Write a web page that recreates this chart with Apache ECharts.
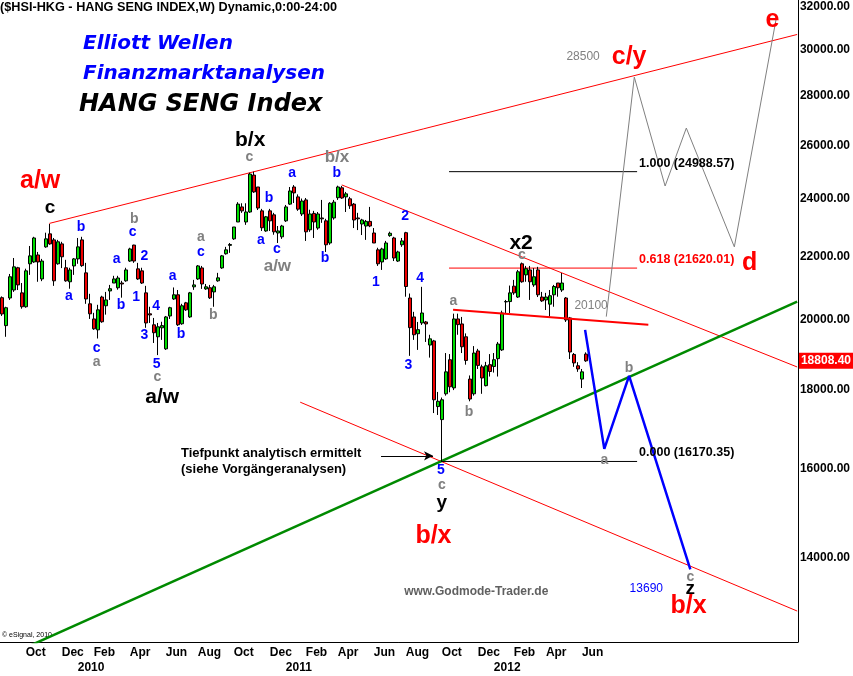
<!DOCTYPE html>
<html><head><meta charset="utf-8">
<script src="https://cdn.jsdelivr.net/npm/echarts@6/dist/echarts.min.js"></script>
<style>html,body{margin:0;padding:0;background:#fff}#c{width:853px;height:676px}</style>
</head><body><div id="c"></div>
<script>
// ---------- DATA ----------
const firstWeek = '2009-08-24'; // Monday of first weekly bar
const open = [20680,19830,20670,20920,21630,20830,20400,21760,21820,22050,21270,22320,22760,22555,21760,22420,21630,21180,21690,21920,22555,21465,20490,20030,19705,
20700,20430,20890,21140,20990,21140,21210,21850,22380,21595,21530,20830,20185,19855,19500,19765,19150,20120,20640,20770,19885,20520,20090,21020,21270,
21625,20955,20990,20860,21210,21625,22090,22370,22590,23170,23700,23170,23520,24860,24420,23560,22860,23560,23420,22790,22660,23210,23800,24420,24060,
23450,23950,22900,23470,22960,23310,23210,22450,23310,24030,24390,24060,23990,23800,23310,23100,23030,23190,22790,22220,21820,21920,22700,22620,21850,
22390,22800,20670,20090,19590,19910,19940,19260,19380,17560,17220,17900,18840,18060,20030,19880,19500,18300,17900,19090,18640,18120,18700,18650,18870,
19120,20550,20560,21040,20700,21760,21400,21560,21080,21560,20700,20610,20480,20770,21140,20920,20670,20060,18990,18670,18300,19000];
const close = [20180,20370,21340,21660,21080,20400,21530,22020,22620,21820,21850,22590,22420,21210,22490,21990,21210,21560,21920,22320,21700,20640,20185,19735,20306,
19945,20610,20960,21270,21300,21110,21560,22250,21850,21270,21140,19910,20150,19620,19795,19830,20090,20370,20770,19855,20430,20306,20830,21080,21690,
21110,21020,20675,21020,21305,22020,22220,22400,22996,23800,23560,23520,24900,24240,23660,22970,23350,23210,22830,22860,23030,23700,24275,24205,23620,
23910,22830,23450,23170,23450,23280,22390,23830,23870,24420,24020,24170,23740,23240,23280,23240,23190,23030,22450,21760,22250,22450,22780,21950,22150,
22520,21030,19770,19560,19710,20210,19880,19440,17740,17700,17740,18500,18090,20030,19860,19210,18820,17760,19030,18680,18330,18670,18510,18840,19290,
20210,20560,20830,20830,21500,21180,21600,21180,21340,20770,20580,20700,20740,21030,20990,21140,20000,19060,18750,18580,18500,18808.40];
const low = [20120,19500,20610,20860,20920,20340,20370,21400,21790,21180,21200,22290,22390,21050,21730,21620,21180,20960,21400,21760,21660,20490,20030,19705,19450,
19915,20160,20610,21140,20930,20680,21180,21820,21790,21240,21110,19765,19910,19320,18971,19410,19120,20030,20610,19820,19855,20275,20060,20924,21240,
20955,20924,20640,20400,21180,21595,22060,22120,22555,23170,23490,23070,23490,24205,23590,22860,22830,22860,22730,22450,22590,23170,23770,23840,23560,
23380,22520,22830,22620,22900,23140,22150,22390,23250,23950,23990,23520,23630,22960,22890,22720,22555,22990,22450,21690,21560,21890,22660,21850,21820,
22320,20710,18950,19410,19120,19850,19350,18900,17390,17340,16170.35,17850,17940,18000,19560,19030,18700,17700,17850,18580,17900,18100,18370,18480,18370,
19090,20210,20210,20770,20670,21150,21180,20610,21020,20700,20550,20300,20100,20400,20710,20860,19940,18860,18640,18500,18056,18780];
const high = [20720,20400,21430,21950,21660,21140,21600,22350,22660,22150,21920,22800,23099,22620,22555,22490,21890,21630,21950,22620,22660,21790,20800,20215,20460,
20740,20860,21080,21370,21370,21210,21630,22290,22390,21790,21630,21050,20400,20060,19910,19945,20120,20400,21000,20920,20490,20550,20860,21240,21720,
21690,21110,21080,21080,21465,22050,22320,22450,22996,23870,23830,23830,24950,24988.57,24420,23630,23380,23630,23490,23030,23070,23770,24420,24490,24150,
24000,24020,23600,23560,23520,23950,23280,23870,23950,24468,24460,24240,24060,23840,23490,23280,23240,23700,22960,22290,22290,22520,22835,22660,22190,
22620,22830,20810,20245,19940,21020,19970,19560,19410,17950,17800,19030,19000,20190,20190,20090,19600,18400,19230,19150,18700,18780,19000,19030,19350,
20280,20610,21060,21240,21560,21800,21690,21690,21620,21660,20860,20830,20920,21080,21140,21460,20700,20090,19030,18770,18580,19050];
const lastPrice = 18808.40;

const priceTicks = [14000,16000,18000,20000,22000,24000,26000,28000,30000,32000];
const monthTicks = ['2009-10-05','2009-12-07','2010-02-01','2010-04-05','2010-06-07','2010-08-02','2010-10-04','2010-12-06','2011-02-07','2011-04-04','2011-06-06','2011-08-01','2011-10-03','2011-12-05','2012-02-06','2012-04-02','2012-06-04'];
const monthNames = ['Jan','Feb','Mar','Apr','May','Jun','Jul','Aug','Sep','Oct','Nov','Dec'];
const yearTicks = ['2010-01-04','2011-01-03','2012-01-02'];
const axisStart = '2009-08-21';
const axisEnd = '2013-06-17';
const priceMin = 12330, priceMax = 32338;

// lines: [week index, price]
const upperChannel = [[11.9,23120],[198.8,30706]];
const descLine = [[85,24496],[198.8,18636]];
const lowerLine = [[74.6,17676],[198.8,12917]];
const greenLine = [[5,12195],[198.8,20555]];
const neckLine = [[112.8,20306],[161.6,19853]];
const grayPath = [[151.1,20100],[158.1,28800],[165.8,24456],[171.1,26680],[183.1,22320],[193.6,31480]];
const bluePath = [[145.8,19705],[150.6,16480],[156.8,18390],[172.1,13750]];
const arrowLine = [[94.8,16308],[107.8,16308]];
const fibLevels = [24988.57,21620.01,16170.35];
const fibRatios = ['1.000','0.618','0.000'];
const fibStartWeek = [111.8,111.8,109.8];
const fibEndWeek = 158.8;
const fibLabelWeek = 159.3;

// labels: [week index, price, text]
const redLabels = [[9.6,24643,'a/w'],[156.8,29685,'c/y'],[192.6,31381,'e'],[186.9,21790,'d'],[107.9,14450,'b/x'],[171.65,13010,'b/x']];
const blackLabels = [[62.1,26208,'b/x'],[40.1,17819,'a/w'],[129.8,22440,'x2']];
const blackSmallLabels = [[12.1,23663,'c'],[110,15196,'y'],[172.1,13351,'z']];
const blueLabels = [[19.8,22998,'b'],[16.8,20737,'a'],[23.75,19180,'c'],[28.75,21920,'a'],[29.8,20450,'b'],[32.75,22827,'c'],[35.65,22020,'2'],[33.6,20706,'1'],[38.6,20422,'4'],[35.65,19555,'3'],[38.75,18724,'5'],[42.75,21367,'a'],[44.8,19575,'b'],[49.75,22150,'c'],[66.8,24020,'b'],[64.8,22530,'a'],[68.75,22243,'c'],[72.6,24922,'a'],[83.75,24922,'b'],[80.8,21950,'b'],[93.5,21173,'1'],[100.8,23370,'2'],[104.6,21290,'4'],[101.65,18695,'3'],[109.75,15950,'5']];
const grayLabels = [[23.75,18780,'a'],[33.1,23276,'b'],[38.9,18360,'c'],[49.8,22657,'a'],[52.9,20150,'b'],[61.9,25546,'c'],[112.9,20560,'a'],[116.8,17420,'b'],[110,15613,'c'],[130,22053,'c'],[150.6,16205,'a'],[156.8,18611,'b'],[172.1,13595,'c']];
const grayBigLabels = [[68.9,21668,'a/w'],[83.8,25546,'b/x']];
const grayNumbers = [[145.3,29685,'28500'],[147.3,20422,'20100']];
const blueNumbers = [[161.1,13351,'13690']];
const websiteLabel = [[118.6,13291,'www.Godmode-Trader.de']];
const noteLabels = [[44.8,16356,'Tiefpunkt analytisch ermittelt'],[44.8,15967,'(siehe Vorgängeranalysen)']];

// ---------- BUILD ----------
const WEEK = 7*86400000;
function utc(s){const a=s.split('-').map(Number);return Date.UTC(a[0],a[1]-1,a[2]);}
const t0 = utc(firstWeek);
function tw(w){return t0 + w*WEEK;}
const L = Math.log;
const AR = '"Liberation Sans", Arial, sans-serif';

const candleData = open.map((o,i)=>[tw(i), L(o), L(close[i]), L(low[i]), L(high[i])]);

const allLabels = [];
function addGroup(arr, font, fill, align, dy){arr.forEach(a=>allLabels.push({w:a[0],p:a[1],text:a[2],font,fill,align:align||'center',dy:dy||0}));}
addGroup(redLabels, 'bold 25px '+AR, '#ff0000');
addGroup(blackLabels, 'bold 21px '+AR, '#000000');
addGroup(blackSmallLabels, 'bold 19px '+AR, '#000000');
addGroup(blueLabels, 'bold 14px '+AR, '#0000ff');
addGroup(grayLabels, 'bold 14px '+AR, '#808080');
addGroup(grayBigLabels, 'bold 17px '+AR, '#808080');
addGroup(grayNumbers, '12px '+AR, '#808080');
addGroup(blueNumbers, '12px '+AR, '#0000ff');
addGroup(websiteLabel, 'bold 12px '+AR, '#606060');
addGroup(noteLabels, 'bold 13px '+AR, '#000000', 'left');
fibLevels.forEach((lv,i)=>addGroup([[fibLabelWeek, lv, fibRatios[i]+' ('+lv.toFixed(2)+')']], 'bold 12.5px '+AR, i===1?'#ff0000':'#000000','left',-8.5));

function lineSeries(pts, color, width, z){
  return {type:'line', data: pts.map(p=>[tw(p[0]), L(p[1])]), symbol:'none', silent:true, z:z||3,
    lineStyle:{color, width}, animation:false};
}
const series = [];
series.push(lineSeries(upperChannel,'#ff0000',1));
series.push(lineSeries(descLine,'#ff0000',1));
series.push(lineSeries(lowerLine,'#ff0000',1));
series.push(lineSeries(greenLine,'#008a00',2.5));
fibLevels.forEach((lv,i)=>series.push(lineSeries([[fibStartWeek[i],lv],[fibEndWeek,lv]], i===1?'#ff0000':'#000000',1)));
series.push({type:'candlestick', data:candleData, encode:{x:0,y:[1,2,3,4]}, barWidth:3.5, z:4,
  itemStyle:{color:'#00dd00', color0:'#ee0000', borderColor:'#000', borderColor0:'#000', borderWidth:1}});
series.push(lineSeries(neckLine,'#ff0000',2,5));
series.push(lineSeries(grayPath,'#808080',1,5));
series.push(lineSeries(bluePath,'#0000ff',2.5,5));
series.push({type:'line', data:[], symbol:'none', silent:true, z:5,
  markLine:{silent:true, symbol:['none','arrow'], symbolSize:[7,9], label:{show:false}, lineStyle:{color:'#000', width:1, type:'solid'},
    data:[[{coord:[tw(arrowLine[0][0]), L(arrowLine[0][1])]},{coord:[tw(arrowLine[1][0]), L(arrowLine[1][1])]}]]}});
series.push({type:'custom', coordinateSystem:'cartesian2d', data: allLabels.map(l=>[tw(l.w), L(l.p)]), encode:{x:0,y:1}, clip:false, silent:true, z:10,
  renderItem:(params, api)=>{const l = allLabels[params.dataIndex]; const pt = api.coord([api.value(0), api.value(1)]);
    return {type:'text', x:pt[0], y:pt[1]+l.dy, style:{text:l.text, font:l.font, fill:l.fill, align:l.align, verticalAlign:'middle'}};}});
series.push({type:'custom', coordinateSystem:'cartesian2d', data:[[tw(open.length-1), L(lastPrice)]], encode:{x:0,y:1}, clip:false, silent:true, z:10,
  renderItem:(params, api)=>{const cs = params.coordSys; const y = api.coord([api.value(0), api.value(1)])[1]; const x0 = cs.x+cs.width+1;
    return {type:'group', children:[
      {type:'rect', shape:{x:x0, y:y-8, width:api.getWidth()-x0, height:16}, style:{fill:'#ff0000'}},
      {type:'text', x:x0+2, y:y, style:{text:lastPrice.toFixed(2), font:'bold 12px '+AR, fill:'#ffffff', verticalAlign:'middle'}}]};}});

const option = {
  animation:false,
  backgroundColor:'#ffffff',
  grid:{left:0, right:55, top:0, bottom:34},
  xAxis:[
    {type:'value', min:utc(axisStart), max:utc(axisEnd), position:'bottom', scale:true,
     axisLine:{show:true, lineStyle:{color:'#000', width:1}}, axisTick:{show:false}, splitLine:{show:false},
     axisLabel:{customValues: monthTicks.map(utc), formatter:(v)=>monthNames[new Date(v).getUTCMonth()], align:'left', margin:5,
       color:'#000', fontWeight:'bold', fontSize:12, fontFamily:AR, hideOverlap:false}},
    {type:'value', min:utc(axisStart), max:utc(axisEnd), position:'bottom', offset:15, scale:true,
     axisLine:{show:false}, axisTick:{show:false}, splitLine:{show:false},
     axisLabel:{customValues: yearTicks.map(utc), formatter:(v)=>String(new Date(v).getUTCFullYear()), align:'left', margin:5,
       color:'#000', fontWeight:'bold', fontSize:12, fontFamily:AR, hideOverlap:false}}
  ],
  yAxis:{type:'value', position:'right', min:L(priceMin), max:L(priceMax), scale:true,
    axisLine:{show:true, lineStyle:{color:'#000', width:1}}, axisTick:{show:false}, splitLine:{show:false},
    axisLabel:{customValues: priceTicks.map(L), formatter:(v)=>Math.round(Math.exp(v)).toFixed(2), margin:2, align:'left',
      color:'#000', fontWeight:'bold', fontSize:12, fontFamily:AR}},
  graphic:[
    {type:'text', x:0, y:7, silent:true, style:{text:'($HSI-HKG - HANG SENG INDEX,W) Dynamic,0:00-24:00', font:'bold 12.7px '+AR, fill:'#000', verticalAlign:'middle'}},
    {type:'text', x:83, y:44, silent:true, style:{text:'Elliott Wellen', font:'italic bold 20px "DejaVu Sans"', fill:'#0000ff', verticalAlign:'middle'}},
    {type:'text', x:83, y:74, silent:true, style:{text:'Finanzmarktanalysen', font:'italic bold 20px "DejaVu Sans"', fill:'#0000ff', verticalAlign:'middle'}},
    {type:'text', x:79, y:105, silent:true, style:{text:'HANG SENG Index', font:'italic bold 24px "DejaVu Sans"', fill:'#000', verticalAlign:'middle'}},
    {type:'text', x:2, y:635, silent:true, style:{text:'© eSignal, 2010', font:'7px '+AR, fill:'#000', verticalAlign:'middle'}}
  ],
  series
};
const chart = echarts.init(document.getElementById('c'), null, {renderer:'canvas'});
chart.setOption(option);
</script>
</body></html>
